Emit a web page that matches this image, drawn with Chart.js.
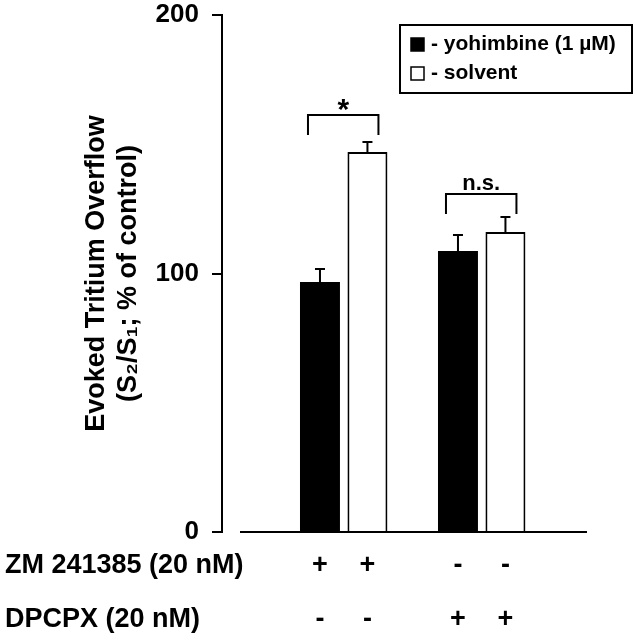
<!DOCTYPE html>
<html>
<head>
<meta charset="utf-8">
<script src="https://cdn.jsdelivr.net/npm/chart.js@4.4.0/dist/chart.umd.min.js"></script>
<style>
  html, body { margin: 0; padding: 0; background: #fff; }
</style>
</head>
<body>
<canvas id="chart" width="637" height="640"></canvas>
<script>
// values (% of control, mean and SEM)
const groups = ['ZM 241385', 'DPCPX'];
const yohimbine = [96.7, 108.7];
const yohimbineSem = [5.0, 6.2];
const solvent = [147.0, 116.1];
const solventSem = [3.9, 5.8];

// treatment table under the axis, one sign per group
const rowLabels = ['ZM 241385 (20 nM)', 'DPCPX (20 nM)'];
const zmSigns = ['+', '-'];
const dpcpxSigns = ['-', '+'];

// significance brackets
const sigText = ['*', 'n.s.'];
const sigLevel = [161.3, 130.8];

const yTicks = [0, 100, 200];

const FONT = '"Liberation Sans", Arial, sans-serif';
Chart.defaults.font.family = FONT;
Chart.defaults.color = '#000';

// x axis line starts a bit right of the y axis, like the original
const baseline = {
  id: 'baseline',
  afterDatasetsDraw(chart) {
    const { ctx, chartArea: a, scales: { y } } = chart;
    const y0 = y.getPixelForValue(0);
    ctx.save();
    ctx.strokeStyle = '#000';
    ctx.lineWidth = 2;
    ctx.beginPath();
    ctx.moveTo(a.left + 18, y0);
    ctx.lineTo(a.right, y0);
    ctx.stroke();
    ctx.restore();
  }
};

// upward-only error bars
const errorBars = {
  id: 'errorBars',
  afterDatasetsDraw(chart) {
    const { ctx, scales: { y } } = chart;
    ctx.save();
    ctx.strokeStyle = '#000';
    ctx.lineWidth = 2;
    chart.data.datasets.forEach((ds, d) => {
      chart.getDatasetMeta(d).data.forEach((bar, i) => {
        const top = y.getPixelForValue(ds.data[i].y + ds.sem[i]);
        ctx.beginPath();
        ctx.moveTo(bar.x, bar.y);
        ctx.lineTo(bar.x, top);
        ctx.moveTo(bar.x - 5, top);
        ctx.lineTo(bar.x + 5, top);
        ctx.stroke();
      });
    });
    ctx.restore();
  }
};

const brackets = {
  id: 'brackets',
  afterDatasetsDraw(chart) {
    const { ctx, scales: { y } } = chart;
    const a = chart.getDatasetMeta(0).data;
    const b = chart.getDatasetMeta(1).data;
    ctx.save();
    ctx.strokeStyle = '#000';
    ctx.fillStyle = '#000';
    ctx.lineWidth = 2;
    ctx.textAlign = 'center';
    sigText.forEach((t, i) => {
      const top = y.getPixelForValue(sigLevel[i]);
      const x1 = a[i].x - 12, x2 = b[i].x + 11;
      ctx.beginPath();
      ctx.moveTo(x1, top + 20);
      ctx.lineTo(x1, top);
      ctx.lineTo(x2, top);
      ctx.lineTo(x2, top + 20);
      ctx.stroke();
      ctx.font = 'bold ' + (t === '*' ? 30 : 22) + 'px ' + FONT;
      const m = ctx.measureText(t);
      ctx.fillText(t, (x1 + x2) / 2, top - 4 - m.actualBoundingBoxDescent);
    });
    ctx.restore();
  }
};

// boxed legend in the top right corner
const boxLegend = {
  id: 'boxLegend',
  afterDraw(chart) {
    const { ctx, chartArea: area } = chart;
    const left = area.right - 187, top = area.top + 10;
    ctx.save();
    ctx.strokeStyle = '#000';
    ctx.lineWidth = 2;
    ctx.strokeRect(left, top, 232, 68);
    ctx.font = 'bold 21px ' + FONT;
    ctx.textBaseline = 'middle';
    chart.data.datasets.forEach((ds, i) => {
      const cy = top + 19 + i * 29;
      ctx.fillStyle = ds.backgroundColor;
      ctx.fillRect(left + 11, cy - 6, 13, 13);
      ctx.lineWidth = 1.5;
      ctx.strokeRect(left + 11, cy - 6, 13, 13);
      ctx.fillStyle = '#000';
      ctx.fillText('- ' + ds.label, left + 31, cy);
    });
    ctx.restore();
  }
};

// +/- table below the bars
const treatmentRows = {
  id: 'treatmentRows',
  afterDraw(chart) {
    const ctx = chart.ctx;
    const base = chart.chartArea.bottom;
    ctx.save();
    ctx.font = 'bold 27px ' + FONT;
    ctx.fillStyle = '#000';
    ctx.textBaseline = 'middle';
    [zmSigns, dpcpxSigns].forEach((signs, r) => {
      const cy = base + 34 + r * 54;
      ctx.textAlign = 'left';
      ctx.fillText(rowLabels[r], 5, cy);
      ctx.textAlign = 'center';
      chart.data.datasets.forEach((ds, d) => {
        chart.getDatasetMeta(d).data.forEach((bar, i) => {
          ctx.fillText(signs[i], bar.x, cy);
        });
      });
    });
    ctx.restore();
  }
};

new Chart(document.getElementById('chart'), {
  type: 'bar',
  data: {
    datasets: [
      {
        label: 'yohimbine (1 µM)',
        data: groups.map((g, i) => ({ x: i, y: yohimbine[i] })),
        sem: yohimbineSem,
        backgroundColor: '#000',
        borderColor: '#000',
        borderWidth: 0
      },
      {
        label: 'solvent',
        data: groups.map((g, i) => ({ x: i, y: solvent[i] })),
        sem: solventSem,
        backgroundColor: '#fff',
        borderColor: '#000',
        borderWidth: 2
      }
    ]
  },
  options: {
    responsive: false,
    animation: false,
    devicePixelRatio: 1,
    categoryPercentage: 0.688,
    barPercentage: 0.842,
    layout: { padding: { left: 0, top: 15, right: 50, bottom: 108 } },
    plugins: { legend: { display: false }, tooltip: { enabled: false } },
    scales: {
      x: {
        type: 'linear',
        offset: false,
        min: -0.882,
        max: 1.763,
        display: false,
        afterBuildTicks: (s) => { s.ticks = groups.map((g, i) => ({ value: i })); }
      },
      y: {
        min: 0,
        max: 200,
        afterBuildTicks: (s) => { s.ticks = yTicks.map((v) => ({ value: v })); },
        afterFit: (s) => {
          s.width = 222;
          s.paddingTop = 0;
          s.paddingBottom = 0;
        },
        border: { display: true, color: '#000', width: 2 },
        grid: { drawOnChartArea: false, drawTicks: true, tickLength: 10, color: '#000', lineWidth: 2 },
        ticks: { font: { size: 26, weight: 'bold' }, color: '#000', padding: 13 },
        title: {
          display: true,
          text: ['Evoked Tritium Overflow', '(S₂/S₁; % of control)'],
          font: { size: 27, weight: 'bold' },
          color: '#000',
          padding: { top: 80, bottom: 0 }
        }
      }
    }
  },
  plugins: [baseline, errorBars, brackets, boxLegend, treatmentRows]
});
</script>
</body>
</html>
